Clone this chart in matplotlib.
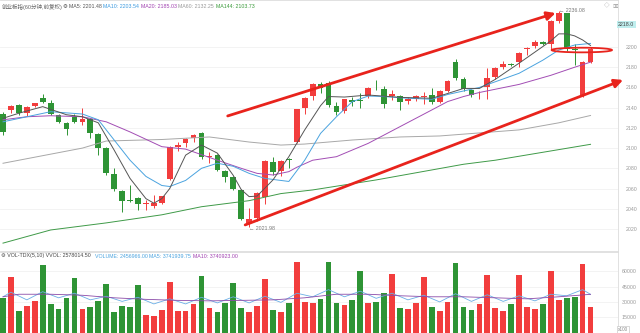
import numpy as np
import matplotlib.pyplot as plt
from matplotlib.patches import Ellipse

plt.rcParams['font.family'] = ['Liberation Sans', 'Noto Sans CJK SC', 'DejaVu Sans']

# 60-minute candles (index 0 = leftmost bar)
opens = [2133.7, 2138, 2142.6, 2134.4, 2141.7, 2149.6, 2145, 2133, 2125, 2131,
         2125.5, 2128.5, 2114, 2100, 2074, 2058, 2048.5, 2050.6, 2044.5, 2043,
         2046, 2069.5, 2101, 2104.7, 2110, 2114.6, 2091.5, 2093, 2077, 2071,
         2059, 2026, 2030.6, 2052, 2086.6, 2077.7, 2088.5, 2106, 2139.4, 2151.5,
         2163.4, 2164.7, 2142, 2137, 2147.6, 2147.5, 2151.5, 2159.5, 2158, 2152,
         2151.5, 2147, 2148.6, 2151, 2152.5, 2146, 2156.4, 2185.5, 2168.4, 2157.5,
         2153.2, 2160, 2170, 2180, 2183.5, 2185, 2197.7, 2201, 2204.6, 2203,
         2226, 2233.3, 2197.5, 2151.5, 2185]
closes = [2116, 2142, 2134.4, 2141, 2144.3, 2145.3, 2133.7, 2126, 2119, 2125.5,
          2128.5, 2114.6, 2100, 2075, 2060, 2048, 2048, 2044.7, 2045, 2046,
          2052.5, 2101, 2103, 2109, 2113, 2091.5, 2092.5, 2078.4, 2071.5, 2059.5,
          2029.6, 2030, 2055.6, 2087.5, 2076.6, 2087.6, 2088, 2138.4, 2149.3, 2163.1,
          2159, 2142.6, 2136, 2148.3, 2146, 2147, 2159.2, 2159, 2143.6, 2153.5,
          2146, 2148.6, 2151.5, 2151.5, 2146, 2156, 2166.4, 2169, 2158.2, 2152.5,
          2153.6, 2169, 2179, 2183, 2182.5, 2194.5, 2199.3, 2205, 2202.6, 2225.7,
          2233.3, 2197.7, 2197, 2185, 2198]
highs = [2136, 2143, 2143.5, 2142, 2145, 2154, 2148, 2134, 2126, 2134,
         2139.5, 2130, 2115, 2101, 2080, 2059, 2063, 2052, 2049, 2053.5,
         2053, 2102, 2106, 2110, 2114, 2116, 2096, 2094, 2078, 2072,
         2060, 2041, 2056.5, 2088, 2091, 2088.5, 2090, 2139, 2151, 2164,
         2165, 2166, 2146, 2149, 2151, 2154.5, 2160, 2167, 2161, 2157,
         2153, 2151, 2153, 2155, 2159, 2157, 2167, 2188, 2170, 2158,
         2156, 2179.5, 2180, 2186, 2184, 2195.5, 2200, 2207, 2205.5, 2226.5,
         2236.08, 2234, 2203, 2186, 2200.3]
lows = [2113, 2134.5, 2133, 2132, 2140.5, 2144.5, 2132.5, 2124.5, 2113, 2124.5,
        2123, 2110, 2093, 2073, 2058, 2037, 2047, 2039, 2039, 2041,
        2044.5, 2068, 2097, 2101, 2106, 2089.5, 2085, 2077, 2066, 2058.5,
        2029, 2021.98, 2028, 2045, 2073, 2072, 2080, 2105, 2134, 2147.5,
        2154.5, 2141, 2133, 2135, 2142, 2139.5, 2150, 2157, 2139.7, 2148,
        2137.7, 2144, 2147, 2144, 2144, 2145, 2155, 2167, 2156, 2151,
        2148.3, 2148.3, 2168, 2178, 2181, 2180, 2192, 2199, 2201.5, 2197,
        2224, 2196.5, 2182, 2151, 2184]
# volume in units of 100
volumes = [33500, 54700, 21400, 26000, 30900, 66200, 27900, 22700, 33500, 53400,
           22700, 24700, 30900, 47500, 20100, 26000, 25300, 46300, 17500, 16200,
           22100, 49200, 21400, 21400, 27900, 55400, 23700, 19800, 28600, 48800,
           24300, 20400, 26000, 52200, 22100, 19800, 29200, 69100, 29600, 29200,
           32800, 69100, 29200, 27000, 31900, 60600, 28600, 29900, 38400, 57400,
           24300, 23300, 29200, 54700, 24700, 21100, 30200, 67800, 24700, 22100,
           27600, 56400, 23700, 21400, 27900, 56400, 24700, 22700, 27900, 60600,
           31900, 34100, 35100, 66800, 24570]

# moving averages: (bar index, value)
ma5_x = [0, 2, 5, 8, 10, 12, 14, 16, 18, 19, 20, 21, 23, 25, 27, 29, 30, 31, 32, 34,
         36, 38, 40, 41, 43, 46, 50, 54, 56, 58, 60, 62, 65, 67, 69, 70, 71, 72, 73, 74]
ma5_y = [2129.5, 2134.5, 2141, 2133, 2131, 2125, 2098, 2070, 2050, 2045.5, 2050, 2060,
         2093, 2103, 2095, 2073, 2059, 2052, 2052.5, 2068.5, 2091.5, 2118, 2142, 2151,
         2150.5, 2152.5, 2150.2, 2149.3, 2154, 2159, 2159, 2168, 2184, 2195, 2206, 2213,
         2213, 2211, 2207, 2201.48]
ma10_x = [0, 3, 6, 10, 12, 14, 16, 18, 20, 21, 23, 25, 27, 29, 31, 33, 36, 38, 40, 42,
          44, 46, 48, 51, 54, 56, 60, 65, 68, 70, 72, 74]
ma10_y = [2126, 2131, 2136, 2133.7, 2128, 2108, 2088, 2072, 2063, 2062, 2068, 2080,
          2085, 2082, 2075, 2070, 2067, 2088, 2114.6, 2131, 2146, 2151.5, 2151, 2149.3,
          2148.3, 2153, 2160, 2174, 2187, 2197, 2202, 2203.54]
ma20_x = [0, 3, 6, 10, 13, 16, 20, 23, 27, 30, 32, 34, 36, 37, 39, 42, 46, 50, 54, 56,
          58, 60, 65, 69, 72, 74]
ma20_y = [2128, 2131, 2132, 2131, 2126, 2116, 2101.4, 2099, 2088, 2080, 2075, 2073.4,
          2076.7, 2081, 2088, 2091.5, 2104.7, 2121.2, 2137.7, 2146, 2151, 2155, 2163,
          2172, 2180, 2185.03]
ma60_x = [0, 6, 10, 13, 20, 26, 31, 35, 38, 44, 50, 55, 60, 65, 70, 74]
ma60_y = [2085, 2094, 2100, 2107, 2108.5, 2111, 2106, 2103, 2104, 2108, 2111, 2112,
          2115, 2118, 2125, 2132.25]
ma144_x = [0, 6, 13, 20, 25, 31, 35, 39, 47, 58, 62, 74]
ma144_y = [2006, 2019, 2026, 2034, 2042, 2048, 2055, 2058.6, 2068.5, 2084, 2088, 2103.73]

# volume moving averages (rough reading)
vma5_x = [0, 1, 3, 5, 7, 9, 11, 13, 15, 17, 19, 21, 23, 25, 27, 29, 31, 33, 35, 37,
          39, 41, 43, 45, 47, 49, 51, 53, 55, 57, 59, 61, 63, 65, 67, 69, 71, 73, 74]
vma5_y = [35000, 39500, 32000, 40000, 34000, 38500, 32000, 35500, 30500, 34500, 28000,
          33000, 28000, 34500, 29000, 35000, 29000, 35500, 29500, 38500, 35000, 42000,
          35000, 40500, 33500, 38500, 32000, 36500, 30000, 38000, 30500, 37000, 30500,
          36000, 31000, 37500, 36000, 42000, 37419]
vma10_x = [0, 2, 6, 10, 14, 18, 22, 26, 30, 34, 38, 42, 46, 50, 54, 58, 62, 66, 70, 74]
vma10_y = [35000, 37500, 37500, 36500, 34000, 32500, 31500, 31000, 31500, 32000, 34000,
           37500, 37500, 36000, 35000, 35000, 34000, 33000, 35000, 37409]

W, H = 640, 333
fig = plt.figure(figsize=(6.4, 3.33), dpi=100)
ax = fig.add_axes([0, 82 / H, 618 / W, 251 / H])
axv = fig.add_axes([0, 0, 618 / W, 81 / H])

red, green = '#f23d3d', '#2e9435'
grid_c, spine_c, tick_c = '#f1f1f1', '#dcdcdc', '#9a9a9a'
bar_w = 0.72

o = np.array(opens)
c = np.array(closes)
idx = np.arange(len(o))
cols = np.where(c > o, red, green)

ax.vlines(idx, lows, highs, colors=cols, lw=0.7, zorder=3)
ax.bar(idx, np.maximum(np.abs(c - o), 0.8), bottom=np.minimum(o, c), width=bar_w,
       color=cols, lw=0, zorder=3)

ax.plot(ma144_x, ma144_y, color='#3f9a48', lw=0.7, zorder=4)
ax.plot(ma60_x, ma60_y, color='#a8a8a8', lw=0.7, zorder=4)
ax.plot(ma20_x, ma20_y, color='#a24db4', lw=0.7, zorder=4)
ax.plot(ma10_x, ma10_y, color='#4aa3df', lw=0.7, zorder=4)
ax.plot(ma5_x, ma5_y, color='#555555', lw=0.7, zorder=4)

ax.set_xlim(-0.38, 77.46)
ax.set_ylim(1998.2, 2246.5)
ax.set_xticks([])
ax.set_yticks(np.arange(2020, 2201, 20))
ax.yaxis.tick_right()
ax.tick_params(axis='y', length=0, pad=5.5, labelsize=3.8, labelcolor=tick_c)
ax.grid(axis='y', color=grid_c, lw=0.6)
ax.set_axisbelow(True)

# trend channel drawn over the chart
line_c = '#e8231c'
arrow = dict(arrowstyle='-|>,head_length=0.5,head_width=0.25', color=line_c, lw=2,
             shrinkA=0, shrinkB=0, clip_on=False)
ax.annotate('', xy=(69.6, 2233.6), xytext=(28.3, 2131.8), arrowprops=arrow,
            annotation_clip=False, zorder=7)
ax.annotate('', xy=(78.1, 2167.4), xytext=(30.5, 2024), arrowprops=arrow,
            annotation_clip=False, zorder=7)
ax.add_patch(Ellipse((72.9, 2197), 7.6, 4.6, fill=False, ec=line_c, lw=1.3,
                     zorder=7, clip_on=False))

ax.text(70, 2236.08, '\u2190 2236.08', ha='left', va='center', fontsize=3.8,
        color='#777777', zorder=8)
ax.text(31, lows[31] - 1.5, '\u2190 2021.98', ha='left', va='center', fontsize=3.8,
        color='#777777', zorder=8)
ax.text(1.0, 1 - 24.5 / 251, '2218.0', transform=ax.transAxes, ha='left', va='center',
        fontsize=3.8, color='#444444',
        bbox=dict(boxstyle='square,pad=0.25', fc='#bfeeee', ec='none'))

# volume panel
axv.bar(idx, volumes, width=bar_w, color=cols, lw=0, zorder=3)
axv.plot(vma5_x, vma5_y, color='#6aaee6', lw=0.6, zorder=4)
axv.plot(vma10_x, vma10_y, color='#8a4aa8', lw=0.6, zorder=4)
axv.set_xlim(-0.38, 77.46)
axv.set_ylim(-490, 78900)
axv.set_xticks([])
axv.set_yticks([15000, 30000, 45000, 60000])
axv.yaxis.tick_right()
axv.tick_params(axis='y', length=0, pad=2.5, labelsize=3.8, labelcolor=tick_c)
axv.grid(axis='y', color=grid_c, lw=0.6)
axv.set_axisbelow(True)
axv.text(1.0, 0.04, 'x100', transform=axv.transAxes, ha='left', va='center',
         fontsize=3.4, color='#888888',
         bbox=dict(boxstyle='square,pad=0.2', fc='white', ec='#bbbbbb', lw=0.4))

for a in (ax, axv):
    a.spines['left'].set_visible(False)
    for s in ('top', 'right', 'bottom'):
        a.spines[s].set_color(spine_c)
        a.spines[s].set_linewidth(0.6)

# header texts
def label(x, y, s, color, size=3.8):
    fig.text(x / W, 1 - y / H, s, color=color, fontsize=size, ha='left', va='center')

label(2, 7, '创业板指(60分钟,前复权)', '#666666', 4.0)
label(63, 7, '\u2699', '#444444', 4.0)
label(69, 7, 'MA5: 2201.48', '#555555')
label(103, 7, 'MA10: 2203.54', '#3d9be0')
label(141, 7, 'MA20: 2185.03', '#a040b0')
label(178, 7, 'MA60: 2132.25', '#999999')
label(216, 7, 'MA144: 2103.73', '#3a9a3a')
label(604, 6, '\u25c7', '#999999', 4)
label(612, 6, '\u25a3', '#999999', 4)

label(1, 256, '\u2699 VOL-TDX(5,10) VVOL: 2578014.50', '#444444')
label(95, 256, 'VOLUME: 2456966.00', '#4aa3df')
label(149, 256, 'MA5: 3741939.75', '#4aa3df')
label(193, 256, 'MA10: 3740923.00', '#a040b0')

fig.savefig('out.png', dpi=100, facecolor='white')
